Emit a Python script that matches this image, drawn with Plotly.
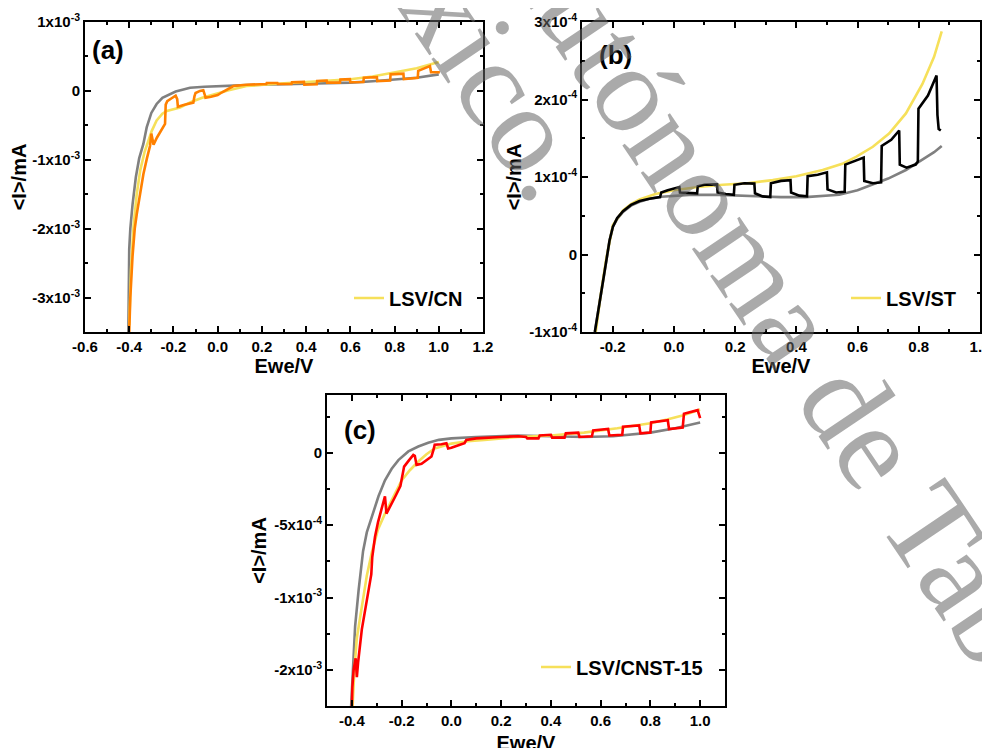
import plotly.graph_objects as go

# ---------------- data (x in V, y in mA) ----------------
# Panel (a): LSV / CN
a_gray_x = [-0.404, -0.403, -0.400, -0.395, -0.385, -0.370, -0.355, -0.336, -0.321, -0.300, -0.276, -0.250, -0.216, -0.190, -0.155, -0.125, -0.060, 0.0, 0.1, 0.2, 0.3, 0.4, 0.5, 0.6, 0.7, 0.8, 0.9, 1.0]
a_gray_y = [-3.5e-3, -2.8e-3, -2.3e-3, -2.0e-3, -1.65e-3, -1.25e-3, -0.98e-3, -0.77e-3, -0.53e-3, -0.32e-3, -0.19e-3, -0.10e-3, -0.05e-3, -0.01e-3, 0.02e-3, 0.045e-3, 0.06e-3, 0.07e-3, 0.08e-3, 0.09e-3, 0.095e-3, 0.10e-3, 0.11e-3, 0.12e-3, 0.14e-3, 0.16e-3, 0.19e-3, 0.24e-3]

a_yel_x = [-0.400, -0.392, -0.380, -0.366, -0.350, -0.330, -0.298, -0.276, -0.250, -0.230, -0.170, -0.120, -0.070, -0.020, 0.050, 0.131, 0.2, 0.3, 0.4, 0.5, 0.6, 0.7, 0.8, 0.9, 1.0]
a_yel_y = [-3.4e-3, -2.6e-3, -1.95e-3, -1.5e-3, -1.15e-3, -0.88e-3, -0.58e-3, -0.43e-3, -0.33e-3, -0.29e-3, -0.24e-3, -0.16e-3, -0.10e-3, -0.05e-3, 0.01e-3, 0.07e-3, 0.09e-3, 0.11e-3, 0.13e-3, 0.15e-3, 0.17e-3, 0.21e-3, 0.27e-3, 0.33e-3, 0.42e-3]

a_org_x = [-0.400, -0.395, -0.385, -0.375, -0.366, -0.350, -0.336, -0.320, -0.306, -0.300, -0.290, -0.275, -0.260, -0.246, -0.238, -0.235, -0.228, -0.210, -0.190, -0.183, -0.180, -0.150, -0.110, -0.105, -0.100, -0.080, -0.065, -0.058, -0.055, -0.030, 0.0, 0.020, 0.050, 0.071, 0.130, 0.200, 0.220, 0.222, 0.270, 0.272, 0.334, 0.336, 0.390, 0.392, 0.448, 0.450, 0.493, 0.495, 0.553, 0.555, 0.598, 0.600, 0.659, 0.661, 0.720, 0.722, 0.780, 0.782, 0.840, 0.842, 0.905, 0.907, 0.960, 0.965, 1.005]
a_org_y = [-3.5e-3, -3.0e-3, -2.4e-3, -2.0e-3, -1.79e-3, -1.45e-3, -1.21e-3, -0.98e-3, -0.80e-3, -0.62e-3, -0.78e-3, -0.68e-3, -0.60e-3, -0.53e-3, -0.48e-3, -0.20e-3, -0.15e-3, -0.11e-3, -0.07e-3, -0.12e-3, -0.23e-3, -0.20e-3, -0.17e-3, -0.08e-3, -0.03e-3, 0.00e-3, 0.01e-3, -0.06e-3, -0.10e-3, -0.085e-3, -0.06e-3, -0.02e-3, 0.03e-3, 0.07e-3, 0.09e-3, 0.10e-3, 0.10e-3, 0.115e-3, 0.115e-3, 0.10e-3, 0.10e-3, 0.125e-3, 0.13e-3, 0.09e-3, 0.095e-3, 0.145e-3, 0.15e-3, 0.12e-3, 0.12e-3, 0.165e-3, 0.17e-3, 0.125e-3, 0.13e-3, 0.19e-3, 0.20e-3, 0.14e-3, 0.15e-3, 0.24e-3, 0.25e-3, 0.17e-3, 0.19e-3, 0.29e-3, 0.36e-3, 0.27e-3, 0.27e-3]

# Panel (b): LSV / ST
b_gray_x = [-0.258, -0.240, -0.221, -0.210, -0.199, -0.185, -0.166, -0.140, -0.112, -0.080, -0.040, 0.05, 0.15, 0.268, 0.35, 0.43, 0.50, 0.54, 0.60, 0.649, 0.70, 0.758, 0.812, 0.85, 0.875]
b_gray_y = [-1.0e-4, -0.55e-4, -0.06e-4, 0.18e-4, 0.36e-4, 0.46e-4, 0.55e-4, 0.63e-4, 0.68e-4, 0.72e-4, 0.745e-4, 0.77e-4, 0.77e-4, 0.75e-4, 0.74e-4, 0.74e-4, 0.755e-4, 0.77e-4, 0.83e-4, 0.90e-4, 0.98e-4, 1.09e-4, 1.22e-4, 1.32e-4, 1.40e-4]

b_yel_x = [-0.255, -0.240, -0.221, -0.199, -0.166, -0.140, -0.112, -0.060, 0.0, 0.08, 0.16, 0.24, 0.323, 0.40, 0.486, 0.55, 0.595, 0.65, 0.703, 0.758, 0.812, 0.85, 0.875]
b_yel_y = [-1.0e-4, -0.55e-4, -0.06e-4, 0.38e-4, 0.57e-4, 0.65e-4, 0.71e-4, 0.78e-4, 0.83e-4, 0.87e-4, 0.90e-4, 0.92e-4, 0.96e-4, 1.01e-4, 1.09e-4, 1.17e-4, 1.26e-4, 1.39e-4, 1.56e-4, 1.82e-4, 2.20e-4, 2.55e-4, 2.88e-4]

b_blk_x = [-0.258, -0.240, -0.221, -0.210, -0.199, -0.185, -0.166, -0.140, -0.112, -0.080, -0.045, -0.041, -0.020, 0.0, 0.018, 0.020, 0.050, 0.076, 0.078, 0.100, 0.141, 0.143, 0.170, 0.196, 0.198, 0.230, 0.263, 0.265, 0.290, 0.315, 0.317, 0.350, 0.381, 0.383, 0.410, 0.435, 0.437, 0.470, 0.500, 0.502, 0.530, 0.558, 0.560, 0.590, 0.620, 0.622, 0.650, 0.677, 0.679, 0.710, 0.736, 0.738, 0.760, 0.790, 0.797, 0.799, 0.830, 0.858, 0.861, 0.865, 0.872]
b_blk_y = [-1.0e-4, -0.55e-4, -0.06e-4, 0.18e-4, 0.36e-4, 0.47e-4, 0.56e-4, 0.64e-4, 0.69e-4, 0.72e-4, 0.74e-4, 0.80e-4, 0.83e-4, 0.85e-4, 0.87e-4, 0.80e-4, 0.79e-4, 0.79e-4, 0.88e-4, 0.90e-4, 0.905e-4, 0.80e-4, 0.78e-4, 0.77e-4, 0.90e-4, 0.92e-4, 0.915e-4, 0.79e-4, 0.75e-4, 0.74e-4, 0.92e-4, 0.95e-4, 0.96e-4, 0.80e-4, 0.76e-4, 0.75e-4, 1.01e-4, 1.03e-4, 1.06e-4, 0.84e-4, 0.80e-4, 0.81e-4, 1.16e-4, 1.21e-4, 1.25e-4, 0.95e-4, 0.92e-4, 0.93e-4, 1.40e-4, 1.48e-4, 1.60e-4, 1.16e-4, 1.12e-4, 1.16e-4, 1.20e-4, 1.88e-4, 2.05e-4, 2.31e-4, 1.80e-4, 1.62e-4, 1.60e-4]

# Panel (c): LSV / CNST-15
c_gray_x = [-0.403, -0.397, -0.387, -0.373, -0.355, -0.340, -0.320, -0.293, -0.267, -0.240, -0.213, -0.173, -0.133, -0.093, -0.050, 0.0, 0.1, 0.267, 0.4, 0.533, 0.65, 0.8, 0.9, 1.0]
c_gray_y = [-1.75e-3, -1.5e-3, -1.2e-3, -0.95e-3, -0.68e-3, -0.55e-3, -0.44e-3, -0.30e-3, -0.19e-3, -0.11e-3, -0.05e-3, 0.01e-3, 0.044e-3, 0.07e-3, 0.09e-3, 0.10e-3, 0.11e-3, 0.12e-3, 0.115e-3, 0.11e-3, 0.115e-3, 0.14e-3, 0.17e-3, 0.21e-3]

c_yel_x = [-0.397, -0.390, -0.380, -0.360, -0.340, -0.320, -0.295, -0.267, -0.233, -0.200, -0.167, -0.133, -0.100, -0.067, 0.0, 0.067, 0.133, 0.267, 0.4, 0.533, 0.667, 0.8, 0.867, 0.933, 1.0]
c_yel_y = [-1.75e-3, -1.5e-3, -1.28e-3, -1.05e-3, -0.85e-3, -0.69e-3, -0.53e-3, -0.42e-3, -0.30e-3, -0.19e-3, -0.12e-3, -0.06e-3, -0.01e-3, 0.03e-3, 0.064e-3, 0.08e-3, 0.09e-3, 0.11e-3, 0.12e-3, 0.14e-3, 0.17e-3, 0.205e-3, 0.23e-3, 0.26e-3, 0.30e-3]

c_red_x = [-0.400, -0.398, -0.393, -0.388, -0.385, -0.380, -0.375, -0.360, -0.347, -0.335, -0.322, -0.318, -0.307, -0.295, -0.282, -0.275, -0.267, -0.261, -0.250, -0.225, -0.205, -0.195, -0.190, -0.170, -0.153, -0.147, -0.140, -0.120, -0.080, -0.072, -0.067, -0.040, -0.020, -0.013, 0.0, 0.040, 0.053, 0.060, 0.100, 0.200, 0.270, 0.300, 0.305, 0.350, 0.355, 0.400, 0.405, 0.455, 0.460, 0.510, 0.515, 0.565, 0.570, 0.630, 0.635, 0.687, 0.690, 0.755, 0.760, 0.800, 0.803, 0.870, 0.875, 0.930, 0.935, 0.990, 1.000]
c_red_y = [-1.75e-3, -1.62e-3, -1.50e-3, -1.46e-3, -1.42e-3, -1.55e-3, -1.45e-3, -1.22e-3, -1.08e-3, -0.95e-3, -0.84e-3, -0.72e-3, -0.58e-3, -0.48e-3, -0.40e-3, -0.36e-3, -0.30e-3, -0.42e-3, -0.38e-3, -0.30e-3, -0.23e-3, -0.12e-3, -0.095e-3, -0.05e-3, -0.014e-3, -0.02e-3, -0.083e-3, -0.075e-3, -0.025e-3, 0.02e-3, 0.056e-3, 0.06e-3, 0.067e-3, 0.03e-3, 0.035e-3, 0.06e-3, 0.067e-3, 0.09e-3, 0.10e-3, 0.11e-3, 0.115e-3, 0.11e-3, 0.10e-3, 0.10e-3, 0.12e-3, 0.125e-3, 0.105e-3, 0.105e-3, 0.135e-3, 0.14e-3, 0.11e-3, 0.115e-3, 0.155e-3, 0.165e-3, 0.12e-3, 0.125e-3, 0.18e-3, 0.19e-3, 0.135e-3, 0.14e-3, 0.21e-3, 0.225e-3, 0.165e-3, 0.175e-3, 0.27e-3, 0.295e-3, 0.24e-3]

# tick values / labels
a_xticks = [-0.6, -0.4, -0.2, 0.0, 0.2, 0.4, 0.6, 0.8, 1.0, 1.2]
a_xlabels = ["-0.6", "-0.4", "-0.2", "0.0", "0.2", "0.4", "0.6", "0.8", "1.0", "1.2"]
a_yticks = [1e-3, 0, -1e-3, -2e-3, -3e-3]
a_ylabels = ["1x10<sup>-3</sup>", "0", "-1x10<sup>-3</sup>", "-2x10<sup>-3</sup>", "-3x10<sup>-3</sup>"]

b_xticks = [-0.2, 0.0, 0.2, 0.4, 0.6, 0.8, 1.0]
b_xlabels = ["-0.2", "0.0", "0.2", "0.4", "0.6", "0.8", "1.0"]
b_yticks = [3e-4, 2e-4, 1e-4, 0, -1e-4]
b_ylabels = ["3x10<sup>-4</sup>", "2x10<sup>-4</sup>", "1x10<sup>-4</sup>", "0", "-1x10<sup>-4</sup>"]

c_xticks = [-0.4, -0.2, 0.0, 0.2, 0.4, 0.6, 0.8, 1.0]
c_xlabels = ["-0.4", "-0.2", "0.0", "0.2", "0.4", "0.6", "0.8", "1.0"]
c_yticks = [0, -5e-4, -1e-3, -1.5e-3]
c_ylabels = ["0", "-5x10<sup>-4</sup>", "-1x10<sup>-3</sup>", "-2x10<sup>-3</sup>"]

legend_names = ["LSV/CN", "LSV/ST", "LSV/CNST-15"]
watermark_lines = ["Universidad Juárez Autónoma de Tabasco.", "México."]

# ---------------- styling ----------------
FONT = "Arial, Liberation Sans, sans-serif"
GRAY = "#808080"
YEL = "#F6E05A"
ORG = "#FF8000"
RED = "#FF0000"
BLK = "#000000"
LW = 2.6

W, H = 990, 748
OFF = 8  # page body margin of the viewer; screen px = figure px + OFF

def fx(px):
    return (px - OFF) / W

def fy(py):
    return 1 - (py - OFF) / H

def dom(x0, x1, y0, y1):
    return [fx(x0), fx(x1)], [fy(y1), fy(y0)]

ax_dx, ax_dy = dom(85, 483, 22, 332)
bx_dx, bx_dy = dom(582, 980, 22, 332)
cx_dx, cx_dy = dom(327, 725, 395, 706)

fig = go.Figure()

def add(x, y, color, xa, ya, name=None, legend=None, show=False):
    fig.add_trace(go.Scatter(x=x, y=y, mode="lines", line=dict(color=color, width=LW),
                             xaxis=xa, yaxis=ya, name=name or "", showlegend=show,
                             legend=legend or "legend"))

add(a_gray_x, a_gray_y, GRAY, "x", "y")
add(a_yel_x, a_yel_y, YEL, "x", "y", legend_names[0], "legend", True)
add(a_org_x, a_org_y, ORG, "x", "y")

add(b_gray_x, b_gray_y, GRAY, "x2", "y2")
add(b_yel_x, b_yel_y, YEL, "x2", "y2", legend_names[1], "legend2", True)
add(b_blk_x, b_blk_y, BLK, "x2", "y2")

add(c_gray_x, c_gray_y, GRAY, "x3", "y3")
add(c_yel_x, c_yel_y, YEL, "x3", "y3", legend_names[2], "legend3", True)
add(c_red_x, c_red_y, RED, "x3", "y3")

tickfont = dict(family=FONT, size=15, color="black", weight="bold")
titlefont = dict(family=FONT, size=20, color="black", weight="bold")

def xaxis(dm, anchor, rng, tv, tt, minor, standoff=4):
    return dict(domain=dm, anchor=anchor, range=rng, tickvals=tv, ticktext=tt, automargin=False,
                ticks="inside", ticklen=6, tickwidth=1.5, tickcolor="black",
                showline=True, linewidth=2, linecolor="black", mirror="allticks",
                showgrid=False, zeroline=False, tickfont=tickfont,
                minor=dict(tickvals=minor, ticks="inside", ticklen=3, tickwidth=1.5, tickcolor="black", showgrid=False),
                title=dict(text="Ewe/V", font=titlefont, standoff=standoff))

def yaxis(dm, anchor, rng, tv, tt, minor):
    return dict(domain=dm, anchor=anchor, range=rng, tickvals=tv, ticktext=tt, automargin=False,
                ticks="inside", ticklen=6, tickwidth=1.5, tickcolor="black",
                showline=True, linewidth=2, linecolor="black", mirror="allticks",
                showgrid=False, zeroline=False, tickfont=tickfont,
                minor=dict(tickvals=minor, ticks="inside", ticklen=3, tickwidth=1.5, tickcolor="black", showgrid=False),
                title=dict(text="&lt;I&gt;/mA", font=titlefont, standoff=2))

fig.update_layout(
    width=W, height=H, margin=dict(l=0, r=0, t=0, b=0, autoexpand=False),
    paper_bgcolor="white", plot_bgcolor="white",
    font=dict(family=FONT, color="black"),
    xaxis=xaxis(ax_dx, "y", [-0.6, 1.2], a_xticks, a_xlabels, [-0.5, -0.3, -0.1, 0.1, 0.3, 0.5, 0.7, 0.9, 1.1]),
    yaxis=yaxis(ax_dy, "x", [-3.5e-3, 1e-3], a_yticks, a_ylabels, [0.5e-3, -0.5e-3, -1.5e-3, -2.5e-3]),
    xaxis2=xaxis(bx_dx, "y2", [-0.3, 1.0], b_xticks, b_xlabels, [-0.1, 0.1, 0.3, 0.5, 0.7, 0.9]),
    yaxis2=yaxis(bx_dy, "x2", [-1e-4, 3e-4], b_yticks, b_ylabels, [2.5e-4, 1.5e-4, 0.5e-4, -0.5e-4]),
    xaxis3=xaxis(cx_dx, "y3", [-0.5, 1.1], c_xticks, c_xlabels, [-0.3, -0.1, 0.1, 0.3, 0.5, 0.7, 0.9], standoff=8),
    yaxis3=yaxis(cx_dy, "x3", [-1.75e-3, 0.4e-3], c_yticks, c_ylabels, [2.5e-4, -2.5e-4, -7.5e-4, -1.25e-3]),
)

legfont = dict(family=FONT, size=20, color="black", weight="bold")
def leg(xpx, ypx):
    return dict(x=fx(xpx), y=fy(ypx), xanchor="left", yanchor="middle",
                bgcolor="rgba(0,0,0,0)", borderwidth=0, font=legfont, itemwidth=30)

fig.update_layout(legend=leg(349, 298), legend2=leg(846, 298), legend3=leg(536, 667))

for txt, xpx, ypx in [("(a)", 90, 50), ("(b)", 597, 55), ("(c)", 342, 430)]:
    fig.add_annotation(text=txt, x=fx(xpx), y=fy(ypx), xref="paper", yref="paper",
                       xanchor="left", yanchor="middle", showarrow=False,
                       font=dict(family=FONT, size=26, color="black", weight="bold"))

# diagonal watermark of the source document
for txt, xpx, ypx in [(watermark_lines[0], 560, -22), (watermark_lines[1], 452, 14)]:
    fig.add_annotation(text=txt, x=fx(xpx), y=fy(ypx), xref="paper", yref="paper",
                       xanchor="center", yanchor="middle", showarrow=False, textangle=56,
                       font=dict(family="Liberation Serif, Times New Roman, serif", size=125,
                                 color="rgba(100,100,100,0.55)"))

fig.write_html("out.html")
